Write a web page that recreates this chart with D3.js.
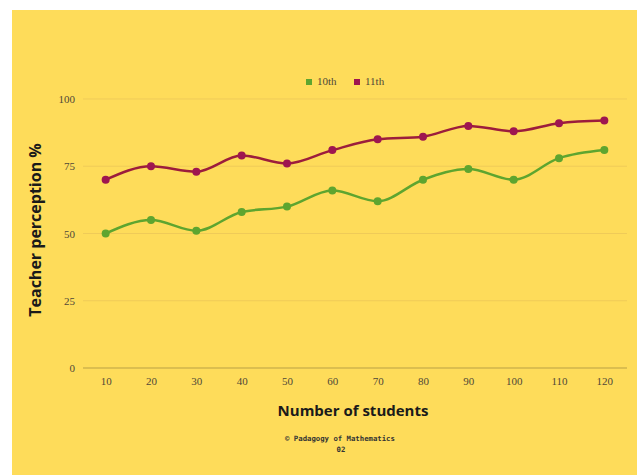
<!DOCTYPE html>
<html><head><meta charset="utf-8">
<script src="https://cdn.jsdelivr.net/npm/d3@7"></script>
<style>html,body{margin:0;padding:0;background:#fff;}svg{display:block;}</style>
</head><body>
<svg id="c" width="637" height="475"></svg>
<script>
const categories = [10,20,30,40,50,60,70,80,90,100,110,120];
const series10th = [50,55,51,58,60,66,62,70,74,70,78,81];
const series11th = [70,75,73,79,76,81,85,86,90,88,91,92];
const yTicks = [0,25,50,75,100];
const seriesNames = ["10th","11th"];

const svg = d3.select("#c");
svg.append("rect").attr("x",12).attr("y",10).attr("width",625).attr("height",465).attr("fill","#FEDC5A");

const x = d3.scalePoint().domain(categories).range([83,627]).padding(0.5);
const y = d3.scaleLinear().domain([0,100]).range([368,99]);

// grid
const grid = svg.append("g");
yTicks.forEach(t=>{
  grid.append("line").attr("x1",83).attr("x2",627).attr("y1",y(t)).attr("y2",y(t))
    .attr("stroke", t===0 ? "#B9A045" : "#EFCB58").attr("stroke-width",1);
});

// y axis labels
const yAxis = d3.axisLeft(y).tickValues(yTicks).tickSize(0).tickPadding(0);
const yg = svg.append("g").attr("transform","translate(75,0)").call(yAxis);
yg.select(".domain").remove();
yg.selectAll("text").attr("font-family","Liberation Serif, serif").attr("font-size",11).attr("fill","#4f4838");

// x axis labels
const xAxis = d3.axisBottom(x).tickSize(0).tickPadding(0);
const xg = svg.append("g").attr("transform","translate(0,377)").call(xAxis);
xg.select(".domain").remove();
xg.selectAll("text").attr("font-family","Liberation Serif, serif").attr("font-size",11).attr("fill","#4f4838");

const colors = {"10th":{line:"#5EA52F",dot:"#5EA52F"},"11th":{line:"#9C1D3C",dot:"#9E1650"}};
const data = {"10th":series10th,"11th":series11th};
const line = d3.line().x((d,i)=>x(categories[i])).y(d=>y(d)).curve(d3.curveMonotoneX);
seriesNames.forEach(name=>{
  svg.append("path").datum(data[name]).attr("d",line).attr("fill","none")
    .attr("stroke",colors[name].line).attr("stroke-width",2.5);
  svg.append("g").selectAll("circle").data(data[name]).join("circle")
    .attr("cx",(d,i)=>x(categories[i])).attr("cy",d=>y(d)).attr("r",4)
    .attr("fill",colors[name].dot);
});

// legend
const legend = [{n:"10th",sx:309,tx:317},{n:"11th",sx:357,tx:365}];
legend.forEach(l=>{
  svg.append("rect").attr("x",l.sx-3).attr("y",79).attr("width",6).attr("height",6).attr("fill",colors[l.n].dot);
  svg.append("text").attr("x",l.tx).attr("y",85).text(l.n)
    .attr("font-family","Liberation Serif, serif").attr("font-size",11).attr("fill","#4f4838");
});

// axis titles
svg.append("text").attr("x",353).attr("y",416).attr("text-anchor","middle")
  .attr("font-family","Open Sans, sans-serif").attr("font-weight","bold").attr("font-size",15)
  .attr("fill","#1a1a1a").text("Number of students");
svg.append("text").attr("transform","translate(41,230) rotate(-90)").attr("text-anchor","middle")
  .attr("font-family","Open Sans, sans-serif").attr("font-weight","bold").attr("font-size",16)
  .attr("fill","#1a1a1a").text("Teacher perception %");

// footer
svg.append("text").attr("x",340).attr("y",441).attr("text-anchor","middle")
  .attr("font-family","DejaVu Sans Mono, monospace").attr("font-weight","bold").attr("font-size",7.3)
  .attr("fill","#333").text("© Padagogy of Mathematics");
svg.append("text").attr("x",341).attr("y",452).attr("text-anchor","middle")
  .attr("font-family","DejaVu Sans Mono, monospace").attr("font-weight","bold").attr("font-size",7.3)
  .attr("fill","#333").text("02");
</script>
</body></html>
